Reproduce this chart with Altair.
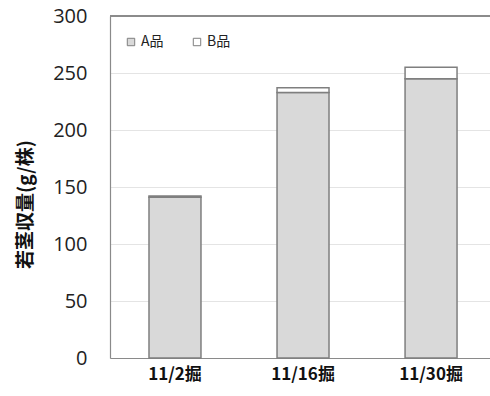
import altair as alt
import pandas as pd

# Harvest dates and spear yield per plant (g), split by grade
categories = ["11/2掘", "11/16掘", "11/30掘"]
grades = ["A品", "B品"]
a_vals = [141, 233, 245]
b_vals = [1, 4, 10]

rows = []
for cat, a, b in zip(categories, a_vals, b_vals):
    rows.append({"date": cat, "grade": grades[0], "rank": 0, "yield": a})
    rows.append({"date": cat, "grade": grades[1], "rank": 1, "yield": b})
df = pd.DataFrame(rows)

W, H = 380, 342
JP = "Noto Sans CJK JP"

bars = alt.Chart(df).mark_bar(stroke="#7f7f7f", strokeWidth=1.5).encode(
    x=alt.X(
        "date:N",
        sort=categories,
        scale=alt.Scale(paddingInner=0.594, paddingOuter=0.281, align=0.542),
        axis=alt.Axis(
            title=None, labelAngle=0, labelFont=JP, labelFontWeight="bold",
            labelFontSize=17, labelColor="#111", labelPadding=8, tickSize=0,
            domainColor="#8a8a8a", domainWidth=1.2,
        ),
    ),
    y=alt.Y(
        "yield:Q",
        stack="zero",
        scale=alt.Scale(domain=[0, 300], nice=False),
        axis=alt.Axis(
            title="若茎収量(g/株)", values=[0, 50, 100, 150, 200, 250, 300],
            labelFont="Open Sans", labelFontSize=20, labelColor="#222",
            labelPadding=23, tickSize=0, grid=True, gridColor="#e4e4e4",
            domainColor="#8a8a8a", domainWidth=1.2,
            titleFont=JP, titleFontWeight="bold", titleFontSize=19,
            titleColor="#111", titleAngle=270, titleAlign="center",
            titleBaseline="middle", titleX=-85, titleY=188,
        ),
    ),
    color=alt.Color(
        "grade:N",
        scale=alt.Scale(domain=grades, range=["#d9d9d9", "#ffffff"]),
        legend=alt.Legend(
            title=None, orient="none", legendX=14, legendY=19,
            direction="horizontal", symbolType="square", symbolSize=55,
            symbolStrokeColor="#7f7f7f", symbolStrokeWidth=1,
            labelFont=JP, labelFontSize=14, labelColor="#222",
            labelOffset=3, columnPadding=26,
        ),
    ),
    order=alt.Order("rank:Q", sort="ascending"),
)

# Top edge of the plot frame
top_edge = alt.Chart(df).mark_rule(color="#8a8a8a", strokeWidth=1.2).encode(
    x=alt.value(0), x2=alt.value(W), y=alt.value(0)
)

chart = (
    alt.layer(bars, top_edge)
    .properties(
        width=W, height=H,
        autosize=alt.AutoSizeParams(type="none"),
        padding={"left": 110, "top": 16, "right": 0, "bottom": 38},
        background="white",
    )
    .configure_view(stroke=None)
)

chart.save("out.html", embed_options={"renderer": "svg", "actions": False})
